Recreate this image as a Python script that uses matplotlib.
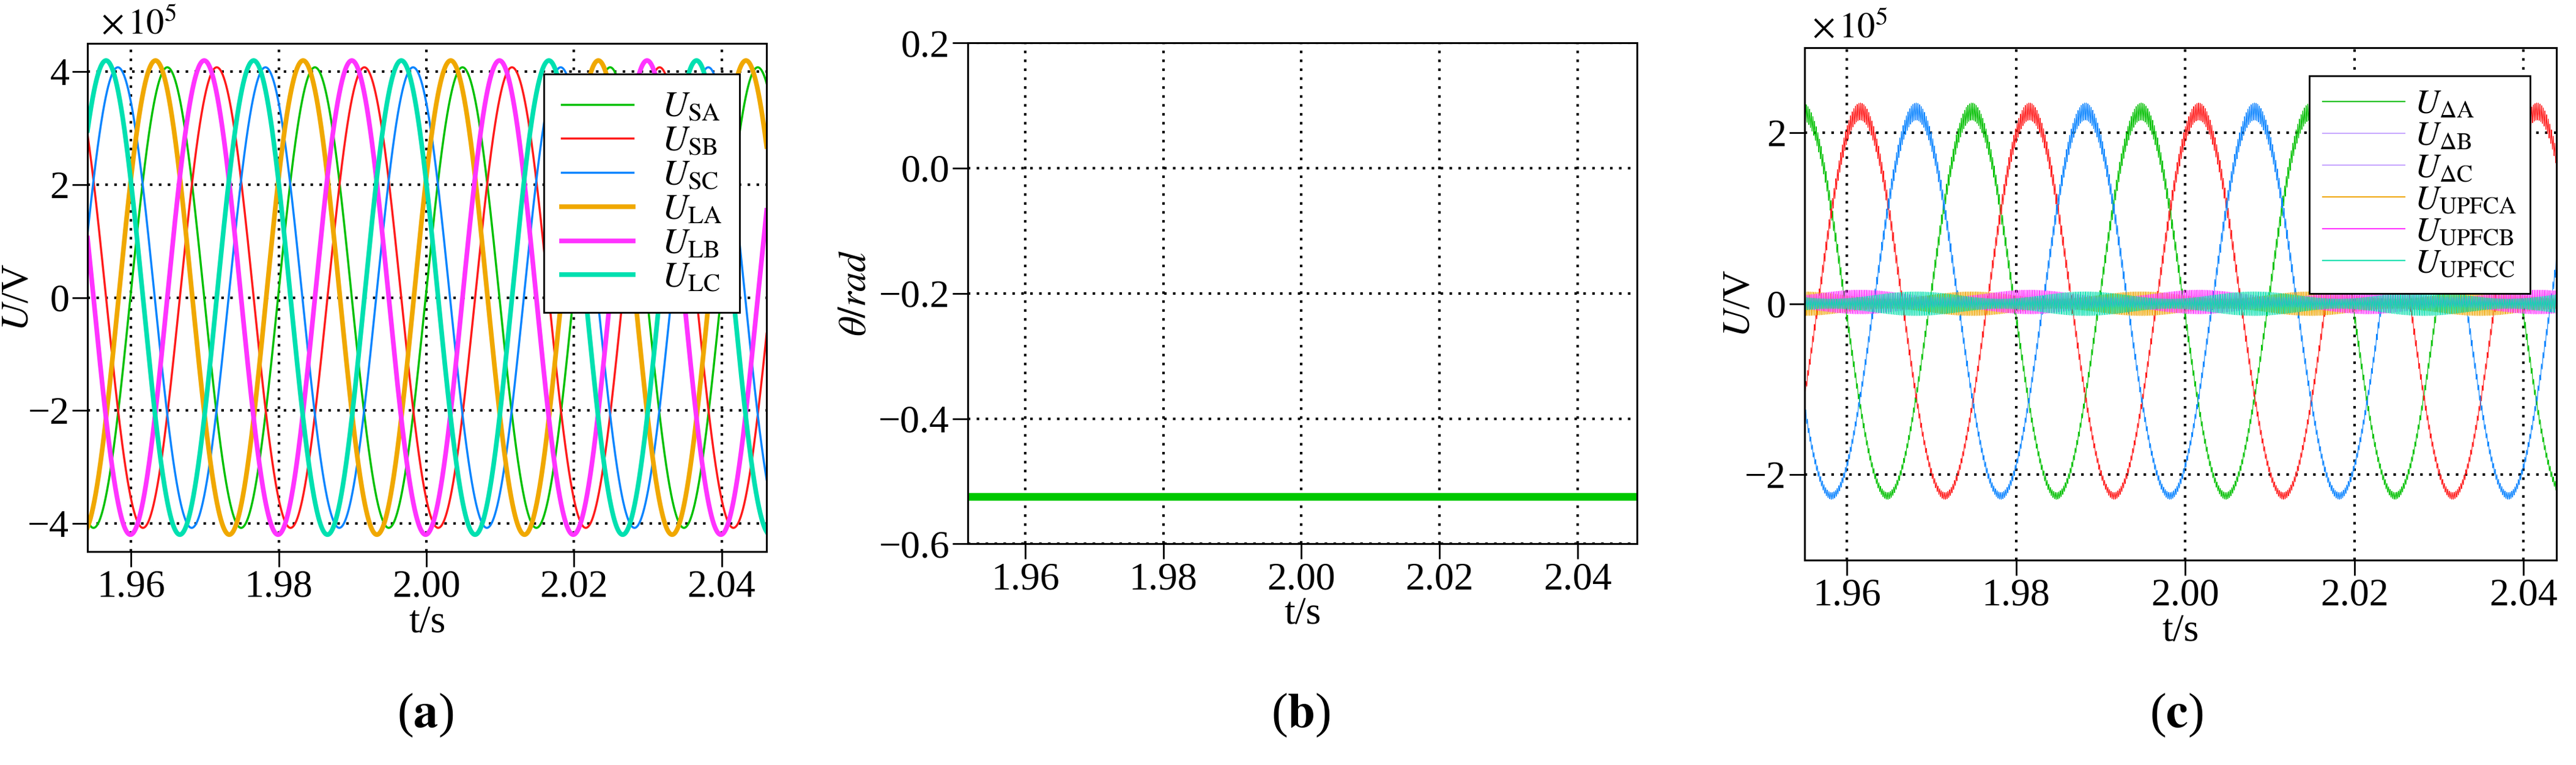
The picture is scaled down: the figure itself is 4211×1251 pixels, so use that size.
import numpy as np
import matplotlib
matplotlib.use('Agg')
import matplotlib.pyplot as plt
from matplotlib.lines import Line2D

plt.rcParams['font.family'] = ['Liberation Serif', 'DejaVu Serif']
plt.rcParams['mathtext.fontset'] = 'stix'
plt.rcParams['axes.unicode_minus'] = True

# ---- panel (a): source / load voltages (50 Hz), peak time and amplitude
a_names = ['SA', 'SB', 'SC', 'LA', 'LB', 'LC']
a_amp = [4.08, 4.08, 4.08, 4.2, 4.2, 4.2]            # x1e5 V
a_peak = [1.9649, 1.9716, 1.9582, 1.9633, 1.9699, 1.9566]  # time of a positive peak
a_colors = ['#00c000', '#ff1a1a', '#0a84ff', '#f0a800', '#ff33ff', '#00e0b0']
a_lw = [2.5, 2.5, 2.5, 5.5, 5.5, 5.5]

# ---- panel (b): phase angle
b_t = [1.9517, 2.0486]
b_theta = [-0.524, -0.524]

# ---- panel (c): series voltages with switching ripple
c_names = [r'\Delta A', r'\Delta B', r'\Delta C', 'UPFCA', 'UPFCB', 'UPFCC']
c_amp = [2.25, 2.25, 2.25, 0.0, 0.0, 0.0]
c_peak = [1.9748, 1.9816, 1.9682, 1.9748, 1.9816, 1.9682]
c_ripple = [0.1, 0.1, 0.1, 0.14, 0.14, 0.14]
c_offset = [0.0, 0.0, 0.0, 0.0, 0.02, 0.0]
c_colors = ['#00c000', '#ff1a1a', '#0a84ff', '#f0a800', '#ff33ff', '#00e0b0']
c_legend_colors = ['#00c000', '#c8a8ff', '#c8a8ff', '#f0a800', '#ff33ff', '#00e0b0']
f0 = 50.0
f_sw = 5130.0

fig = plt.figure(figsize=(42.11, 12.51), dpi=100)
FS = 46


def style(ax):
    ax.grid(True, color='black', linestyle=(0, (1, 2.5)), linewidth=3)
    ax.tick_params(direction='out', length=18, width=2, labelsize=FS,
                   top=False, right=False)
    for s in ax.spines.values():
        s.set_linewidth(2.2)
    ax.set_xticks([1.96, 1.98, 2.00, 2.02, 2.04])
    ax.set_xticklabels(['1.96', '1.98', '2.00', '2.02', '2.04'])
    ax.set_xlabel('t/s', fontsize=FS, labelpad=0)
    ax.xaxis.set_label_coords(0.5, -0.105)


# (a)
ax1 = fig.add_axes([0.034, 0.279, 0.2636, 0.664])
t = np.linspace(1.954, 2.0461, 4000)
for n, A, tp, c, lw in zip(a_names, a_amp, a_peak, a_colors, a_lw):
    ax1.plot(t, A * np.cos(2 * np.pi * f0 * (t - tp)), color=c, lw=lw,
             label=r'$U_{\mathrm{%s}}$' % n)
ax1.set_xlim(1.9541, 2.0461)
ax1.set_ylim(-4.5, 4.5)
ax1.set_yticks([-4, -2, 0, 2, 4])
ax1.set_ylabel(r'$U$/V', fontsize=FS)
style(ax1)
ax1.yaxis.set_label_coords(-0.075, 0.5)
ax1.text(0.02, 1.005, r'$\times\,10^5$', transform=ax1.transAxes, fontsize=FS - 4, va='bottom')
ax1.legend(loc='upper right', bbox_to_anchor=(0.96, 0.94), fontsize=FS - 4,
           fancybox=False, edgecolor='black', framealpha=1, handlelength=2.0,
           borderpad=0.5, labelspacing=0.05, borderaxespad=0).get_frame().set_linewidth(2)
fig.text(0.165, 0.05, r'($\mathbf{a}$)', fontsize=58, ha='center')

# (b)
ax2 = fig.add_axes([0.3757, 0.289, 0.2598, 0.655])
ax2.plot(b_t, b_theta, color='#00c800', lw=9, solid_capstyle='round')
ax2.set_xlim(1.9517, 2.0486)
ax2.set_ylim(-0.6, 0.2)
ax2.set_yticks([-0.6, -0.4, -0.2, 0.0, 0.2])
ax2.set_yticklabels(['\u22120.6', '\u22120.4', '\u22120.2', '0.0', '0.2'])
ax2.set_ylabel(r'$\theta/rad$', fontsize=FS)
style(ax2)
ax2.yaxis.set_label_coords(-0.14, 0.5)
fig.text(0.505, 0.05, r'($\mathbf{b}$)', fontsize=58, ha='center')

# (c)
ax3 = fig.add_axes([0.7005, 0.268, 0.292, 0.67])
t = np.linspace(1.955, 2.0439, 20000)
for i, (n, A, tp, r, off, c) in enumerate(zip(c_names, c_amp, c_peak, c_ripple, c_offset, c_colors)):
    w = 2 * np.pi * f0 * (t - tp)
    ripple = r * np.sin(2 * np.pi * f_sw * t + i) * (0.7 + 0.3 * np.cos(w))
    ax3.plot(t, A * np.cos(w) + ripple + off, color=c, lw=0.8)
ax3.set_xlim(1.9550, 2.0439)
ax3.set_ylim(-3.0, 3.0)
ax3.set_yticks([-2, 0, 2])
ax3.set_ylabel(r'$U$/V', fontsize=FS)
style(ax3)
ax3.yaxis.set_label_coords(-0.062, 0.5)
ax3.text(0.01, 1.005, r'$\times\,10^5$', transform=ax3.transAxes, fontsize=FS - 4, va='bottom')
handles = [Line2D([], [], color=c, lw=1.5) for c in c_legend_colors]
labels = [r'$U_{\mathrm{%s}}$' % n for n in c_names]
ax3.legend(handles, labels, loc='upper right', bbox_to_anchor=(0.965, 0.945),
           fontsize=FS - 6, fancybox=False, edgecolor='black', framealpha=1,
           handlelength=2.4, borderpad=0.4, labelspacing=0.0, handletextpad=0.3,
           borderaxespad=0).get_frame().set_linewidth(2)
fig.text(0.845, 0.05, r'($\mathbf{c}$)', fontsize=58, ha='center')

fig.savefig('out.png', dpi=100)
